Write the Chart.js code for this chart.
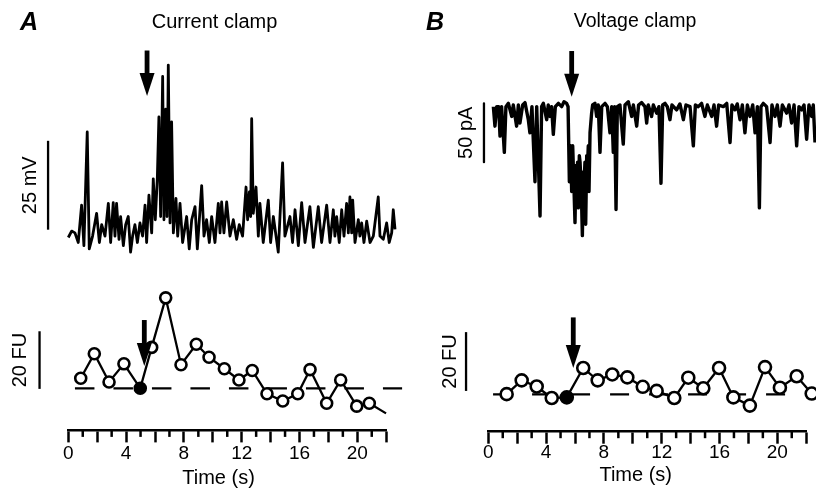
<!DOCTYPE html>
<html><head><meta charset="utf-8">
<script src="https://cdn.jsdelivr.net/npm/chart.js@4.4.1/dist/chart.umd.min.js"></script>
<style>
html,body{margin:0;padding:0;background:#fff;}
body{width:816px;height:491px;position:relative;overflow:hidden;font-family:"Liberation Sans",Arial,Helvetica,sans-serif;}
canvas{position:absolute;top:0;}
#cA{left:0;} #cB{left:408px;}
.lbl{position:absolute;white-space:nowrap;color:#000;line-height:1;}
</style></head><body>
<canvas id="cA" width="408" height="491"></canvas>
<canvas id="cB" width="408" height="491"></canvas>
<div class="lbl" style="left:20px;top:8.8px;font-size:25px;font-style:italic;font-weight:bold;">A</div>
<div class="lbl" style="left:214.5px;top:11.1px;font-size:20px;transform:translateX(-50%);">Current clamp</div>
<div class="lbl" style="left:426px;top:8.8px;font-size:25px;font-style:italic;font-weight:bold;">B</div>
<div class="lbl" style="left:635px;top:11.1px;font-size:19.5px;transform:translateX(-50%);">Voltage clamp</div>
<script>
// ---------- DATA ----------
// Time axis (s)
const tickLabels = [0, 4, 8, 12, 16, 20];
const minorTicks = [1, 3, 5, 7, 9, 11, 13, 15, 17, 19, 21];

// Panel A: membrane potential trace [time s, mV relative to rest]
const traceA = [
 [0.00,1.4],[0.23,3.2],[0.46,2.7],[0.69,0.0],[0.92,10.5],[1.08,-0.9],[1.31,31.1],[1.45,-1.8],[1.68,1.8],[1.96,8.2],
 [2.15,0.0],[2.31,5.0],[2.54,1.8],[2.77,11.0],[2.93,0.0],[3.11,11.2],[3.23,1.8],[3.34,11.0],[3.51,0.9],[3.62,7.3],
 [3.81,-0.9],[3.97,5.0],[4.15,7.3],[4.31,-2.7],[4.45,1.8],[4.61,5.0],[4.78,0.0],[4.96,5.5],[5.14,1.8],[5.31,10.5],
 [5.42,0.0],[5.58,13.3],[5.77,2.7],[5.88,17.9],[6.02,6.4],[6.16,17.9],[6.27,35.3],[6.39,7.3],[6.53,46.7],[6.62,6.4],
 [6.74,37.5],[6.83,7.3],[6.92,49.9],[7.04,5.5],[7.15,33.9],[7.27,2.7],[7.45,12.4],[7.57,1.8],[7.73,11.0],[7.91,0.0],
 [8.19,7.3],[8.37,-1.8],[8.54,6.4],[8.77,10.1],[8.93,-1.8],[9.23,16.0],[9.39,1.8],[9.57,6.4],[9.76,0.0],[9.92,7.3],
 [10.15,0.0],[10.38,11.0],[10.50,2.7],[10.61,11.4],[10.77,2.7],[10.96,11.4],[11.19,1.8],[11.42,6.4],[11.65,0.9],[11.83,5.0],
 [12.06,1.8],[12.30,15.6],[12.41,6.4],[12.53,14.2],[12.62,7.3],[12.69,34.8],[12.80,8.2],[12.99,15.6],[13.15,1.8],[13.26,11.0],
 [13.49,0.0],[13.84,11.9],[14.00,0.0],[14.19,7.3],[14.53,-2.7],[14.83,22.4],[14.99,1.8],[15.34,7.3],[15.52,0.0],[15.69,9.2],
 [15.92,-0.9],[16.15,11.2],[16.38,0.0],[16.72,10.1],[16.96,-1.4],[17.30,10.1],[17.53,0.0],[17.88,10.5],[18.11,0.0],[18.34,9.2],
 [18.45,1.8],[18.57,7.3],[18.75,0.0],[18.92,9.2],[19.08,1.8],[19.26,11.0],[19.38,2.7],[19.49,12.8],[19.61,2.7],[19.68,11.9],
 [19.84,0.0],[20.07,6.4],[20.18,1.8],[20.30,5.5],[20.46,0.0],[20.65,6.0],[20.88,0.0],[21.11,1.8],[21.45,12.8],[21.57,1.8],
 [21.80,0.9],[22.03,5.5],[22.21,0.0],[22.38,2.7],[22.49,9.2],[22.61,3.7]
];
// Panel A: fluorescence (FU)
const timeFuA = [0.86,1.80,2.82,3.85,4.98,5.77,6.74,7.80,8.86,9.74,10.80,11.81,12.73,13.75,14.84,15.88,16.73,17.88,18.85,19.96,20.83,21.99];
const fuA     = [3.5,12.0,2.2,8.5,0.0,14.2,31.4,8.2,15.3,10.8,6.8,2.9,6.2,-1.9,-4.4,-1.9,6.5,-5.2,2.9,-6.2,-5.2,-8.7];
const filledA = 4;
const baselineA = [0.46, 23.1];

// Panel B: membrane current trace [time s, pA]
const traceB = [
 [0.35,-1.7],[0.46,-18.3],[0.58,-1.7],[0.72,-1.7],[0.81,-26.7],[0.92,-1.7],[1.11,-40.6],[1.22,-1.7],[1.39,1.1],[1.62,-10.0],
 [1.73,-0.3],[1.96,-18.3],[2.08,-0.3],[2.19,-15.6],[2.38,-0.3],[2.54,1.7],[2.77,-12.8],[2.88,-23.9],[3.02,-1.7],[3.23,-65.6],
 [3.35,-1.7],[3.58,-94.7],[3.69,-1.7],[3.81,1.1],[4.04,-12.8],[4.15,-0.3],[4.27,-10.0],[4.38,-1.7],[4.50,-25.3],[4.64,-1.7],
 [4.85,1.1],[5.08,-1.7],[5.24,2.5],[5.42,1.1],[5.52,-1.7],[5.61,-65.6],[5.70,-35.0],[5.77,-73.9],[5.84,-35.0],[5.91,-62.8],
 [6.00,-100.3],[6.07,-51.7],[6.12,-65.6],[6.18,-48.9],[6.23,-87.8],[6.30,-43.3],[6.35,-48.9],[6.44,-73.9],[6.51,-111.4],[6.58,-57.2],
 [6.62,-68.3],[6.69,-48.9],[6.74,-101.7],[6.81,-43.3],[6.85,-57.2],[6.92,-35.0],[6.97,-73.9],[7.04,-23.9],[7.08,-23.9],[7.15,-7.2],
 [7.22,-0.3],[7.38,1.1],[7.50,-10.0],[7.61,-0.3],[7.73,-40.6],[7.85,-1.7],[8.08,1.1],[8.24,-1.7],[8.42,-23.9],[8.54,-1.7],
 [8.65,-40.6],[8.74,-1.7],[8.84,-89.2],[8.93,-1.7],[9.11,-0.3],[9.34,-33.6],[9.46,-0.3],[9.69,2.5],[9.92,-10.0],[10.04,-0.3],
 [10.27,-18.3],[10.40,-0.3],[10.61,1.7],[10.84,-1.7],[10.96,-15.6],[11.07,-0.3],[11.30,-10.0],[11.42,-0.3],[11.65,-7.2],[11.81,-1.7],
 [11.95,-66.9],[12.07,-0.3],[12.23,1.1],[12.39,-1.7],[12.57,-12.8],[12.71,-0.3],[13.03,-4.4],[13.26,0.6],[13.50,-12.8],[13.68,-0.3],
 [13.96,-1.7],[14.19,-35.0],[14.33,-0.3],[14.53,-1.7],[14.76,1.1],[14.99,-10.0],[15.16,-0.3],[15.46,-10.0],[15.62,-0.3],[15.80,-18.3],
 [15.94,-0.3],[16.26,-1.7],[16.50,1.1],[16.73,-32.2],[16.86,-0.3],[17.07,-4.4],[17.23,0.6],[17.42,-12.8],[17.58,-0.3],[17.76,-23.9],
 [17.93,-0.3],[18.11,-10.0],[18.30,-0.3],[18.46,-23.9],[18.62,-1.7],[18.76,-87.8],[18.87,-1.7],[19.03,1.1],[19.26,-1.7],[19.50,-32.2],
 [19.63,-0.3],[19.84,-10.0],[20.00,-0.3],[20.19,-18.3],[20.35,-0.3],[20.65,-7.2],[20.81,-0.3],[20.99,-15.6],[21.16,-0.3],[21.34,-35.0],
 [21.50,-1.7],[21.69,-4.4],[21.85,-0.3],[22.03,-29.4],[22.19,-0.3],[22.38,-10.0],[22.49,-0.3],[22.61,-32.2]
];
// Panel B: fluorescence (FU)
const timeFuB = [1.27,2.31,3.35,4.39,5.43,6.57,7.57,8.58,9.62,10.69,11.65,12.87,13.84,14.88,15.97,16.96,18.10,19.15,20.18,21.34,22.38];
const fuB     = [0.1,4.8,2.7,-1.2,-1.0,9.0,4.8,6.8,5.8,2.6,1.2,-1.2,5.7,2.1,9.0,-1.0,-3.8,9.3,2.3,6.2,0.3];
const filledB = 4;
const baselineB = [0.33, 22.8];

// Stimulus arrows: time (s), top value, tip value
const arrowA_trace = [5.45, 54.0, 41.2];
const arrowA_fu    = [5.26, 23.7, 7.7];
const arrowB_trace = [5.77, 45.6, 6.7];
const arrowB_fu    = [5.88, 26.2, 9.0];

// Scale bars: time position (s), from, to
const barA_mV = [-1.40, 3.6, 28.6];
const barA_FU = [-1.99, -0.2, 19.8];
const barB_pA = [-0.30, 1.1, -48.9];
const barB_FU = [-1.54, 1.2, 21.2];

// ---------- RENDER ----------
const FONT = '"Liberation Sans", Arial, Helvetica, sans-serif';
Chart.defaults.color = '#000';
Chart.defaults.borderColor = '#000';
Chart.defaults.font.family = FONT;

function pts(arr){ return arr.map(p => ({x:p[0], y:p[1]})); }
function zip(ts, vs){ return ts.map((t,i) => ({x:t, y:vs[i]})); }
function bar(b){ return [{x:b[0], y:b[1]}, {x:b[0], y:b[2]}]; }

function annot(cfg){
  return {
    id: 'annot',
    afterDraw(chart){
      const ctx = chart.ctx, xs = chart.scales.x, yb = chart.chartArea.bottom;
      ctx.save();
      ctx.strokeStyle = '#000'; ctx.fillStyle = '#000'; ctx.lineWidth = 2.5;
      minorTicks.forEach(t => {
        const x = xs.getPixelForValue(t);
        ctx.beginPath(); ctx.moveTo(x, yb); ctx.lineTo(x, yb + 6.5); ctx.stroke();
      });
      cfg.arrows.forEach(a => {
        const ys = chart.scales[a.axis];
        const x = xs.getPixelForValue(a.v[0]);
        const y1 = ys.getPixelForValue(a.v[1]);
        const y2 = ys.getPixelForValue(a.v[2]);
        const hl = 23, hw = 7.5;
        ctx.fillRect(x - 2.4, y1, 4.8, (y2 - hl) - y1 + 1);
        ctx.beginPath(); ctx.moveTo(x - hw, y2 - hl); ctx.lineTo(x + hw, y2 - hl); ctx.lineTo(x, y2); ctx.closePath(); ctx.fill();
      });
      ctx.font = '20px ' + FONT;
      ctx.textAlign = 'center'; ctx.textBaseline = 'middle';
      cfg.labels.forEach(l => {
        const ys = chart.scales[l.axis];
        const x = xs.getPixelForValue(l.b[0]) + l.dx;
        const y = (ys.getPixelForValue(l.b[1]) + ys.getPixelForValue(l.b[2])) / 2;
        ctx.save(); ctx.translate(x, y); ctx.rotate(-Math.PI / 2); ctx.fillText(l.text, 0, 0); ctx.restore();
      });
      ctx.fillText('Time (s)', xs.getPixelForValue(cfg.titleT), yb + cfg.titleDy);
      ctx.restore();
    }
  };
}

function xAxis(pad){
  return {
    type: 'linear',
    afterDataLimits: s => { s.min = 0; s.max = 22; },
    ticks: { stepSize: 2, maxTicksLimit: 100, autoSkip: false, maxRotation: 0, padding: pad,
      font: { size: 19, lineHeight: 1, family: FONT }, color: '#000',
      callback: v => tickLabels.includes(v) ? String(v) : '' },
    grid: { display: true, drawOnChartArea: false, drawTicks: true, tickLength: 12, tickWidth: 2.5, tickColor: '#000' },
    border: { display: true, color: '#000', width: 2.5 }
  };
}

function fuDataset(ts, vs, filled, r){
  return { yAxisID: 'yF', data: zip(ts, vs), borderColor: '#000', borderWidth: 2.3,
    pointRadius: ts.map((t,i) => (ts === timeFuA && i === ts.length - 1) ? 0 : r),
    pointBorderWidth: 2.6, pointBorderColor: '#000',
    pointBackgroundColor: ts.map((t,i) => i === filled ? '#000' : '#fff'),
    order: 0, clip: false, tension: 0 };
}
function lineDs(axis, data, w, extra){
  return Object.assign({ yAxisID: axis, data: data, borderColor: '#000', borderWidth: w, pointRadius: 0,
    clip: false, tension: 0, borderJoinStyle: 'round', fill: false }, extra || {});
}

new Chart(document.getElementById('cA'), {
  type: 'line',
  data: { datasets: [
    fuDataset(timeFuA, fuA, filledA, 5.5),
    lineDs('yF', [{x:baselineA[0], y:0}, {x:baselineA[1], y:0}], 2.3, { borderDash: [19.5, 19], order: 1, borderJoinStyle: 'miter' }),
    lineDs('yV', pts(traceA), 2.8, { order: 2 }),
    lineDs('yV', bar(barA_mV), 2.3, { order: 3 }),
    lineDs('yF', bar(barA_FU), 2.3, { order: 4 })
  ]},
  options: {
    responsive: false, animation: false, events: [],
    layout: { padding: { left: 68.3, right: 21.8, top: 0, bottom: 25.6 } },
    plugins: { legend: { display: false }, tooltip: { enabled: false } },
    scales: {
      x: xAxis(2),
      yV: { type: 'linear', display: false, min: -52.86, max: 65.93 },
      yF: { type: 'linear', display: false, min: -14.61, max: 131.97 }
    }
  },
  plugins: [annot({
    arrows: [{axis:'yV', v: arrowA_trace}, {axis:'yF', v: arrowA_fu}],
    labels: [{axis:'yV', b: barA_mV, dx: -18, text: '25 mV'}, {axis:'yF', b: barA_FU, dx: -19.5, text: '20 FU'}],
    titleT: 10.4, titleDy: 47.6
  })]
});

new Chart(document.getElementById('cB'), {
  type: 'line',
  data: { datasets: [
    fuDataset(timeFuB, fuB, filledB, 6),
    lineDs('yF', [{x:baselineB[0], y:0}, {x:baselineB[1], y:0}], 2.3, { borderDash: [19, 20], order: 1, borderJoinStyle: 'miter' }),
    lineDs('yI', pts(traceB), 3.4, { order: 2 }),
    lineDs('yI', bar(barB_pA), 2.3, { order: 3 }),
    lineDs('yF', bar(barB_FU), 2.3, { order: 4 })
  ]},
  options: {
    responsive: false, animation: false, events: [],
    layout: { padding: { left: 80.3, right: 9.8, top: 0, bottom: 28.3 } },
    plugins: { legend: { display: false }, tooltip: { enabled: false } },
    scales: {
      x: xAxis(0),
      yI: { type: 'linear', display: false, min: -278.08, max: 81.67 },
      yF: { type: 'linear', display: false, min: -12.67, max: 131.23 }
    }
  },
  plugins: [annot({
    arrows: [{axis:'yI', v: arrowB_trace}, {axis:'yF', v: arrowB_fu}],
    labels: [{axis:'yI', b: barB_pA, dx: -17.5, text: '50 pA'}, {axis:'yF', b: barB_FU, dx: -16, text: '20 FU'}],
    titleT: 10.2, titleDy: 43.8
  })]
});
</script>
</body></html>
